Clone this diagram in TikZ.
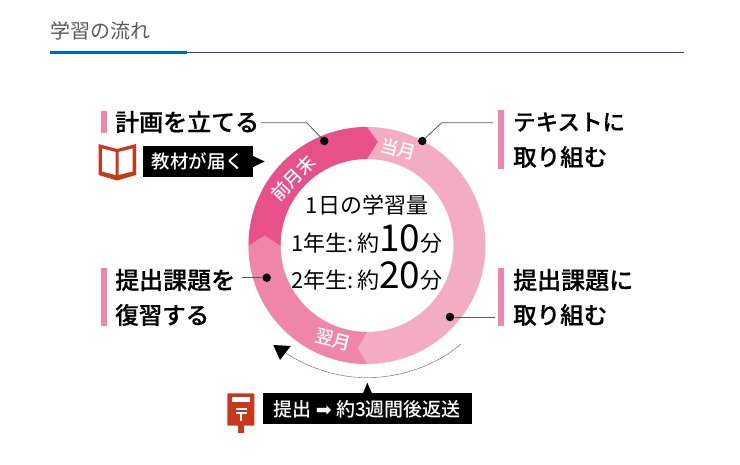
\documentclass[tikz,border=0pt]{standalone}
\usepackage{fontspec}
\setmainfont{Noto Sans CJK JP}
\newfontfamily\medfont{Noto Sans CJK JP Medium}
\newfontfamily\headfont[FakeBold=0.5]{Noto Sans CJK JP Medium}
\newfontfamily\symfont{DejaVu Sans}
\usetikzlibrary{positioning}
\definecolor{darkpink}{HTML}{E8508A}
\definecolor{midpink}{HTML}{EF86A9}
\definecolor{lightpink}{HTML}{F4ACC2}
\definecolor{barpink}{HTML}{F086AC}
\definecolor{iconred}{HTML}{C8391C}
\definecolor{rulethin}{HTML}{2B4F8F}
\definecolor{rulethick}{HTML}{0060DC}
\newcommand{\fsize}[1]{\fontsize{#1}{#1}\selectfont}
\tikzset{
  headtext/.style={anchor=west,inner sep=0pt,font=\fsize{24}\headfont},
  midtext/.style={inner sep=0pt,anchor=base,font=\fsize{22}},
  monthtext/.style={inner sep=0pt,text=white,font=\fsize{18}\medfont},
  blacklabel/.style={fill=black,text=white,inner sep=0pt,font=\fsize{18.5}\medfont},
  dotmark/.style={circle,fill=black,inner sep=0pt,minimum size=8.5pt},
  leadline/.style={draw=black!65,line width=.8pt},
  pinkbar/.style={fill=barpink}
}
\begin{document}
\begin{tikzpicture}[x=1pt,y=-1pt]
\useasboundingbox (0,0) rectangle (740,465);
% title
\node[anchor=west,inner sep=0pt,text=black!65,font=\fsize{20}] (title) at (50,31) {学習の流れ};
\draw[rulethin,line width=1pt] (187,52.5)--(684,52.5);
\draw[rulethick,line width=2.4pt] (50,52.5)--(187,52.5);
% ring
\begin{scope}[shift={(367,245.5)},y=1pt]
\fill[lightpink,even odd rule] (0,0) circle (118.5) (0,0) circle (86.5);
\fill[midpink] (270:118.5) arc[start angle=270,end angle=180,radius=118.5] -- (-102.2,10) -- (180:86.5)
  arc[start angle=180,end angle=270,radius=86.5] -- (-9.2,-102.3) -- cycle;
\fill[darkpink] (180:118.5) arc[start angle=180,end angle=90,radius=118.5] -- (10.8,103.7) -- (90:86.5)
  arc[start angle=90,end angle=180,radius=86.5] -- (-102.2,10) -- cycle;
\end{scope}
\node[monthtext,rotate=46] (zengetsu) at (293.3,178.3) {前月末};
\node[monthtext,rotate=-14] (tougetsu) at (398.3,149.3) {当月};
\node[monthtext,rotate=-14] (yokugetsu) at (333.3,340) {翌月};
% center text
\node[midtext] (amount) at (367,213.5) {1日の学習量};
\node[midtext] (first) at (367,252) {1年生:\,約{\fsize{37}10}分};
\node[midtext] (second) at (367,288.5) {2年生:\,約{\fsize{37}20}分};
% labels
\fill[pinkbar] (101,111) rectangle (107,133);
\fill[pinkbar] (498,110) rectangle (504,169);
\fill[pinkbar] (498,268) rectangle (504,326);
\fill[pinkbar] (101,268) rectangle (107,326);
\node[headtext] (plan) at (115,122) {計画を立てる};
\node[headtext,font=\fsize{22.5}\headfont] (text1) at (513,122) {テキストに};
\node[headtext,font=\fsize{23.5}\headfont] (text2) at (513,157) {取り組む};
\node[headtext] (task1) at (513,280) {提出課題に};
\node[headtext,font=\fsize{23.5}\headfont] (task2) at (513,315) {取り組む};
\node[headtext] (review1) at (115,280) {提出課題を};
\node[headtext,font=\fsize{23.5}\headfont] (review2) at (115,315) {復習する};
% dots and lines
\node[dotmark] (plandot) at (324.3,141) {};
\node[dotmark] (textdot) at (422.3,141) {};
\node[dotmark] (taskdot) at (450,317) {};
\node[dotmark] (reviewdot) at (266.7,277.7) {};
\coordinate (planend) at (261,122.7);
\coordinate (textend) at (493,122.7);
\coordinate (taskend) at (495,317);
\coordinate (reviewend) at (242.3,277.7);
\draw[leadline] (planend) -- (306.7,122.7) -- (plandot);
\draw[leadline] (textend) -- (441.7,122.7) -- (textdot);
\draw[leadline] (taskend) -- (taskdot);
\draw[leadline] (reviewend) -- (reviewdot);
% book
\node[blacklabel,minimum width=110pt,minimum height=31pt] (booklabel) at (198,161.5) {教材が届く};
\fill[black] (253,156) -- (264.7,161.5) -- (253,167) -- cycle;
\fill[iconred] (98.5,144) -- (117,149) -- (136,144) -- (136,175) -- (117,180.5) -- (98.5,175) -- cycle;
\fill[white] (102,148.5) -- (115.5,152) -- (115.5,175) -- (102,171.5) -- cycle;
\fill[white] (118.5,152) -- (132.5,148.5) -- (132.5,171.5) -- (118.5,175) -- cycle;
% return arc
\coordinate (arcstart) at (460.7,344.3);
\coordinate (arcmid) at (366.7,377.7);
\coordinate (arcend) at (284,352);
\draw[black!55,line width=.6pt,dash pattern=on 1.5pt off .5pt] (arcstart) .. controls (435,366) and (400,377.7) .. (arcmid)
  .. controls (338,377.7) and (308,368) .. (arcend);
\fill[black] (273.3,345) -- (290.7,346) -- (280,360) -- cycle;
% post
\node[blacklabel,minimum width=209pt,minimum height=31pt,font=\fsize{19}\medfont] (postlabel) at (367.2,408.8) {提出\ {\symfont ➡}\ 約3週間後返送};
\fill[black] (362.7,394) -- (367.3,382.7) -- (372.3,394) -- cycle;
\fill[iconred] (238.3,420) rectangle (244,433);
\fill[iconred,rounded corners=1pt] (227.3,393.3) rectangle (254.3,425.7);
\fill[white] (232.3,397.3) rectangle (250,401.7);
\fill[white] (235.5,408) rectangle (247,410);
\fill[white] (235.5,412) rectangle (247,414);
\fill[white] (240.2,412) rectangle (242.4,421);
\end{tikzpicture}
\end{document}
